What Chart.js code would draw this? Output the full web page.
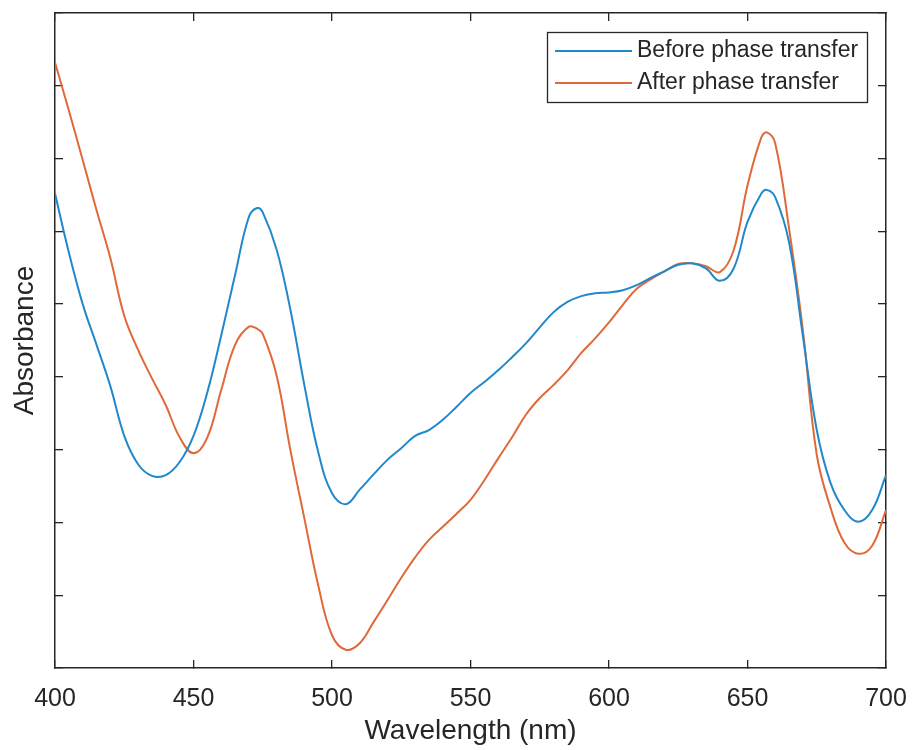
<!DOCTYPE html>
<html>
<head>
<meta charset="utf-8">
<script src="https://cdn.jsdelivr.net/npm/chart.js@4/dist/chart.umd.min.js"></script>
<style>
  html, body { margin: 0; padding: 0; background: #fff; }
  #wrap { width: 914px; height: 750px; }
</style>
</head>
<body>
<div id="wrap"><canvas id="chart"></canvas></div>
<script>
// wavelength (nm), 5 nm steps plus the two band maxima
const wavelengths = [
  400, 405, 410, 415, 420, 425, 430, 435, 440, 445,
  450, 455, 460, 465, 470, 473, 475, 480, 485, 490, 495,
  500, 505, 510, 515, 520, 525, 530, 535, 540, 545,
  550, 555, 560, 565, 570, 575, 580, 585, 590, 595,
  600, 605, 610, 615, 620, 625, 630, 635, 640, 645,
  650, 655, 657, 660, 665, 670, 675, 680, 685, 690, 695, 700
];

// absorbance (arb. units)
const beforeTransfer = [
  0.652, 0.571, 0.500, 0.444, 0.387, 0.319, 0.280, 0.264, 0.265, 0.283,
  0.319, 0.379, 0.457, 0.540, 0.620, 0.632, 0.626, 0.575, 0.492, 0.389, 0.297,
  0.240, 0.225, 0.245, 0.266, 0.286, 0.302, 0.319, 0.327, 0.341, 0.359,
  0.378, 0.393, 0.409, 0.427, 0.446, 0.468, 0.489, 0.503, 0.511, 0.515,
  0.516, 0.519, 0.526, 0.536, 0.545, 0.554, 0.556, 0.549, 0.532, 0.549,
  0.613, 0.652, 0.657, 0.647, 0.585, 0.456, 0.327, 0.254, 0.217, 0.201, 0.217, 0.265
];

const afterTransfer = [
  0.832, 0.766, 0.698, 0.629, 0.563, 0.484, 0.437, 0.398, 0.361, 0.317,
  0.295, 0.317, 0.382, 0.444, 0.469, 0.466, 0.459, 0.402, 0.299, 0.206, 0.114,
  0.045, 0.025, 0.034, 0.063, 0.093, 0.124, 0.152, 0.176, 0.194, 0.212,
  0.231, 0.258, 0.288, 0.317, 0.348, 0.371, 0.389, 0.409, 0.433, 0.453,
  0.475, 0.499, 0.521, 0.534, 0.545, 0.555, 0.556, 0.552, 0.544, 0.574,
  0.663, 0.729, 0.736, 0.721, 0.604, 0.464, 0.293, 0.220, 0.172, 0.157, 0.168, 0.217
];

const seriesNames = ['Before phase transfer', 'After phase transfer'];
const xTickValues = [400, 450, 500, 550, 600, 650, 700];

const FONT = "'Liberation Sans', Arial, Helvetica, sans-serif";
const INK = '#262626';
const BLUE = '#2188cb';
const ORANGE = '#e0693a';

const toPoints = ys => wavelengths.map((x, i) => ({x, y: ys[i]}));

// MATLAB-style legend box in the upper right corner of the axes
const boxLegend = {
  id: 'boxLegend',
  afterDraw(chart) {
    const {ctx, chartArea} = chart;
    const w = 320, h = 70;
    const left = chartArea.right - 19 - w;
    const top = chartArea.top + 19;
    ctx.save();
    ctx.fillStyle = '#fff';
    ctx.fillRect(left, top, w, h);
    ctx.strokeStyle = INK;
    ctx.lineWidth = 1.3;
    ctx.strokeRect(left + 0.5, top + 0.5, w, h);
    ctx.font = '23px ' + FONT;
    ctx.textBaseline = 'middle';
    chart.data.datasets.forEach((ds, i) => {
      const y = top + 19 + i * 32;
      ctx.strokeStyle = ds.borderColor;
      ctx.lineWidth = 2;
      ctx.beginPath();
      ctx.moveTo(left + 8, y);
      ctx.lineTo(left + 85, y);
      ctx.stroke();
      ctx.fillStyle = INK;
      ctx.fillText(ds.label, left + 90, y);
    });
    ctx.restore();
  }
};

const inwardTicks = {
  drawOnChartArea: false,
  drawTicks: true,
  tickLength: -8,
  color: INK,
  lineWidth: 1.3
};
const frame = {display: true, color: INK, width: 1.5};

new Chart(document.getElementById('chart'), {
  type: 'line',
  data: {
    datasets: [
      {
        label: seriesNames[0],
        data: toPoints(beforeTransfer),
        borderColor: BLUE,
        borderWidth: 2,
        pointRadius: 0,
        tension: 0.4,
        fill: false
      },
      {
        label: seriesNames[1],
        data: toPoints(afterTransfer),
        borderColor: ORANGE,
        borderWidth: 2,
        pointRadius: 0,
        tension: 0.4,
        fill: false
      }
    ]
  },
  options: {
    responsive: true,
    maintainAspectRatio: false,
    animation: false,
    layout: {padding: 0},
    plugins: {
      legend: {display: false},
      tooltip: {enabled: false}
    },
    scales: {
      x: {
        type: 'linear',
        position: 'bottom',
        min: 400,
        max: 700,
        afterBuildTicks: s => { s.ticks = xTickValues.map(v => ({value: v})); },
        afterFit: s => { s.height = 82; },
        grid: inwardTicks,
        border: frame,
        ticks: {
          color: INK,
          padding: 0,
          maxRotation: 0,
          font: {family: FONT, size: 25, lineHeight: 3.1}
        },
        title: {
          display: true,
          text: 'Wavelength (nm)',
          color: INK,
          padding: {top: 0, bottom: 2},
          font: {family: FONT, size: 28}
        }
      },
      x2: {
        type: 'linear',
        axis: 'x',
        position: 'top',
        min: 400,
        max: 700,
        afterBuildTicks: s => { s.ticks = xTickValues.map(v => ({value: v})); },
        afterFit: s => { s.height = 13; },
        grid: inwardTicks,
        border: frame,
        ticks: {display: false}
      },
      y: {
        type: 'linear',
        position: 'left',
        min: 0,
        max: 0.9,
        ticks: {display: false, stepSize: 0.1},
        afterFit: s => { s.width = 55; },
        grid: inwardTicks,
        border: frame,
        title: {
          display: true,
          text: 'Absorbance',
          color: INK,
          padding: {top: 8, bottom: 0},
          font: {family: FONT, size: 28}
        }
      },
      y2: {
        type: 'linear',
        axis: 'y',
        position: 'right',
        min: 0,
        max: 0.9,
        ticks: {display: false, stepSize: 0.1},
        afterFit: s => { s.width = 28; },
        grid: inwardTicks,
        border: frame
      }
    }
  },
  plugins: [boxLegend]
});
</script>
</body>
</html>
